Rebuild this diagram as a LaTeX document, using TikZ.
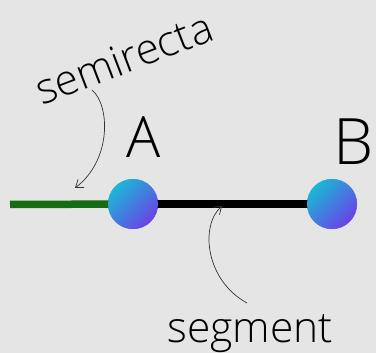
\documentclass[tikz,border=0pt]{standalone}
\usepackage{fontspec}
\setmainfont{Open Sans}[UprightFont=* Light]
\usepackage{xcolor}
\usetikzlibrary{positioning, calc, arrows.meta}

\definecolor{bgcol}{HTML}{E5E5E5}
\definecolor{raygreen}{HTML}{176B12}
\definecolor{ptcyan}{HTML}{1BB8D6}
\definecolor{ptviolet}{HTML}{6A42E6}

\begin{document}
\begin{tikzpicture}[x=1pt,y=-1pt,
    point/.style={circle, minimum size=50pt, inner sep=0pt,
      top color=ptcyan, bottom color=ptviolet, shading angle=45},
    hand/.style={line width=0.7pt, draw=black!80,
      -{Straight Barb[length=7pt,width=10pt]}},
    label/.style={inner sep=0pt, font=\fontsize{42.5}{42.5}\selectfont}]
    \fill[bgcol] (0,0) rectangle (376,353);
    \useasboundingbox (0,0) rectangle (376,353);
    % points and lines
    \coordinate (rayend) at (10,204.5);
    \node[point] (A) at (133,204) {};
    \node[point] (B) at (332,204) {};
    \draw[raygreen, line width=7.5pt] (rayend) -- (A.center);
    \draw[black, line width=7.5pt] (A.center) -- (B.center);
    \node[point] at (A) {};
    \node[point] at (B) {};
    % letters
    \node[inner sep=0pt, anchor=base west, font=\fontsize{57}{57}\selectfont] (lA) at (126,158) {A};
    \node[inner sep=0pt, anchor=base west, font=\fontsize{64}{64}\selectfont] (lB) at (333,165) {B};
    % labels with arrows
    \node[label, anchor=base west, rotate=21] (semi) at (42,106) {semirecta};
    \node[label, anchor=base west] (seg) at (167,343) {segment};
    \coordinate (semifrom) at (92,90);
    \coordinate (semito) at (75,188);
    \coordinate (segfrom) at (247,303);
    \coordinate (segto) at (222,206);
    \draw[hand] (semifrom) .. controls (110,105) and (112,160) .. (semito);
    \draw[hand] (segfrom) .. controls (205,280) and (200,225) .. (segto);
\end{tikzpicture}
\end{document}
